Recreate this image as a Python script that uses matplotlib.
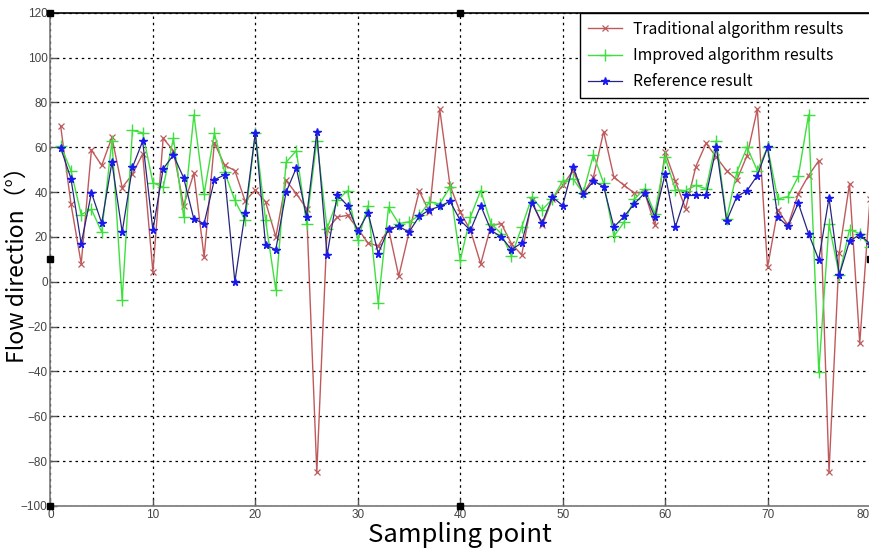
import matplotlib
matplotlib.use("Agg")
import matplotlib.pyplot as plt
import numpy as np

plt.rcParams["font.family"] = ["Noto Sans CJK SC", "DejaVu Sans"]

# sampling points 1..80
sample_idx = np.arange(1, 81)

traditional = [
    69.3, 34.8, 8.1, 58.8, 51.9, 64.4, 42.0, 48.0, 57.0, 4.4,
    64.0, 58.5, 34.0, 48.4, 11.0, 62.0, 52.0, 49.6, 36.0, 41.0,
    35.6, 20.0, 45.2, 39.3, 32.6, -85.0, 23.0, 28.9, 29.6, 23.7,
    17.3, 16.0, 23.7, 2.5, 22.0, 40.5, 31.0, 77.0, 43.0, 31.0,
    23.0, 8.0, 25.0, 26.0, 17.0, 12.0, 36.3, 25.2, 37.0, 43.0,
    49.6, 39.3, 46.7, 67.0, 46.7, 43.0, 39.6, 40.0, 25.2, 57.8,
    44.9, 32.6, 51.4, 61.8, 55.6, 49.6, 45.5, 56.3, 77.0, 6.5,
    32.1, 25.2, 39.3, 47.4, 54.0, -85.0, 13.0, 43.7, -27.4, 37.0,
]
improved = [
    60.7, 49.6, 30.0, 32.3, 22.2, 63.0, -8.1, 67.5, 66.5, 44.2,
    42.2, 64.0, 29.0, 74.5, 39.3, 66.2, 49.0, 36.3, 27.4, 66.5,
    27.4, -3.7, 53.3, 58.5, 26.0, 63.0, 23.7, 36.3, 40.7, 18.5,
    34.0, -9.6, 33.3, 26.0, 26.7, 29.6, 35.6, 34.8, 42.2, 9.6,
    29.0, 40.7, 26.0, 21.5, 11.4, 24.4, 37.8, 32.1, 37.0, 44.9,
    46.0, 39.6, 56.7, 44.0, 20.3, 26.7, 37.0, 41.5, 30.4, 55.6,
    41.0, 40.7, 43.0, 41.5, 63.0, 28.1, 48.9, 60.0, 49.6, 60.0,
    37.0, 38.0, 47.0, 74.5, -40.2, 25.6, 3.0, 23.3, 21.5, 15.5,
]
reference = [
    59.7, 46.0, 17.0, 39.7, 26.2, 53.3, 22.2, 51.0, 62.7, 23.0,
    50.4, 56.5, 46.4, 27.9, 26.0, 45.5, 47.7, 0.0, 30.8, 66.5,
    16.3, 14.4, 40.0, 50.8, 28.9, 66.7, 11.9, 38.8, 34.0, 22.5,
    30.7, 12.6, 23.7, 24.7, 22.2, 29.2, 32.1, 33.6, 35.9, 27.4,
    23.0, 34.0, 23.0, 20.0, 14.4, 17.3, 35.1, 26.2, 37.8, 34.0,
    51.4, 39.3, 44.9, 42.5, 24.4, 29.2, 34.8, 39.6, 28.9, 48.1,
    24.4, 38.5, 38.5, 38.5, 60.0, 27.1, 38.0, 40.7, 47.4, 60.0,
    28.9, 24.7, 35.1, 21.5, 9.8, 37.5, 3.0, 18.2, 21.0, 17.0,
]

x_ticks = np.arange(0, 81, 10)
y_ticks = np.arange(-100, 121, 20)

fig = plt.figure(figsize=(8.7, 5.56), dpi=100)
ax = fig.add_axes([0.058, 0.09, 0.942, 0.887])

ax.plot(sample_idx, traditional, color="#bf5a5c", linewidth=1.0,
        marker="x", markersize=4, markeredgewidth=0.9, label="Traditional algorithm results")
ax.plot(sample_idx, improved, color="#3ee03e", linewidth=1.0,
        marker="+", markersize=8, markeredgewidth=1.0, label="Improved algorithm results")
ax.plot(sample_idx, reference, color="#262680", linewidth=0.9,
        marker="*", markersize=5.5, markerfacecolor="#1a1aee", markeredgecolor="#1a1aee",
        label="Reference result")

ax.set_xlim(0, 80)
ax.set_ylim(-100, 120)
ax.set_xticks(x_ticks)
ax.set_yticks(y_ticks)
ax.grid(True, color="black", linestyle=(0, (2, 3)), linewidth=0.9)
ax.tick_params(direction="in", length=5, width=1.0, color="#555555",
               labelsize=8.5, labelcolor="#444444", pad=2)
for lab in ax.get_xticklabels() + ax.get_yticklabels():
    lab.set_family(["Liberation Sans Narrow", "Liberation Sans"])
# last x label sits at the figure edge; keep it inside
ax.get_xticklabels()[-1].set_horizontalalignment("right")

for side in ["left", "bottom"]:
    ax.spines[side].set_color("#777777")
    ax.spines[side].set_linewidth(1.2)
ax.spines["top"].set_color("black")
ax.spines["top"].set_linewidth(1.2)
ax.spines["right"].set_visible(False)

ax.set_xlabel("Sampling point", fontsize=18.5, labelpad=1)
ax.set_ylabel("Flow direction（°）", fontsize=16.5)
ax.yaxis.set_label_coords(-0.027, 0.5)

leg = ax.legend(loc="upper left", bbox_to_anchor=(0.646, 0.0, 0.37, 1.0), mode="expand",
                fontsize=11.3, frameon=True, fancybox=False, framealpha=1.0,
                edgecolor="black", handlelength=2.2, handletextpad=0.7, borderpad=0.5,
                labelspacing=0.6, borderaxespad=0.0)
leg.get_frame().set_linewidth(1.0)

# figure-editor selection handles
for hx, hy in [(0, 1), (0.5, 1), (0, 0.5), (0, 0), (0.5, 0), (1, 0.5)]:
    ax.plot(hx, hy, marker="s", markersize=4.5, color="black",
            transform=ax.transAxes, clip_on=False, zorder=10)

fig.savefig("out.png", dpi=100)
